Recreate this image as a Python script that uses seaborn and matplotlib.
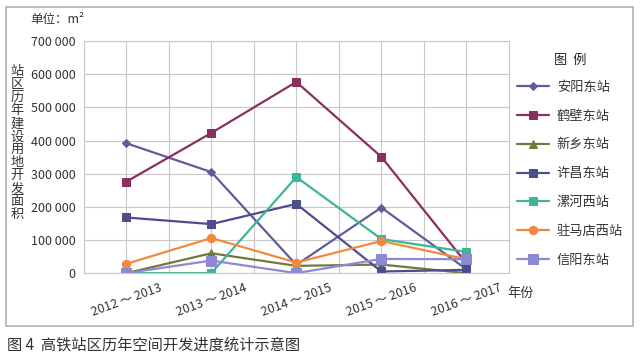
import pandas as pd
import seaborn as sns
import matplotlib.pyplot as plt
from matplotlib.patches import Rectangle
from matplotlib.ticker import FuncFormatter, MultipleLocator

sns.set_theme()
sns.set_style("white")
plt.rcParams['font.family'] = ['Noto Sans CJK SC', 'DejaVu Sans']

periods = ['2012 ～ 2013', '2013 ～ 2014', '2014 ～ 2015', '2015 ～ 2016', '2016 ～ 2017']
stations = ['安阳东站', '鹤壁东站', '新乡东站', '许昌东站', '漯河西站', '驻马店西站', '信阳东站']

anyang = [392000, 305000, 25000, 198000, 12000]
hebi = [276000, 423000, 577000, 351000, 30000]
xinxiang = [0, 60000, 22000, 26000, 0]
xuchang = [168000, 148000, 209000, 5000, 10000]
luohe = [0, 0, 290000, 103000, 64000]
zhumadian = [28000, 106000, 32000, 97000, 42000]
xinyang = [0, 38000, 0, 43000, 42000]

values = [anyang, hebi, xinxiang, xuchang, luohe, zhumadian, xinyang]
colors = ['#5e5d9c', '#8a2f5e', '#6e7b3e', '#4e4d8c', '#3db596', '#f28a3e', '#8c8ad2']
markers = ['D', 's', '^', 's', 's', 'o', 's']
msizes = [4.5, 5.5, 6, 6, 6, 6, 7.5]

df = pd.DataFrame({
    'period': [p for _ in stations for p in periods],
    'x': [i for _ in stations for i in range(len(periods))],
    'station': [s for s in stations for _ in periods],
    'value': [v for vals in values for v in vals],
})

fig = plt.figure(figsize=(6.4, 3.58), dpi=100)
ax = fig.add_axes([0.131, 0.237, 0.664, 0.648])

for st, c, m, ms in zip(stations, colors, markers, msizes):
    sub = df[df['station'] == st]
    sns.lineplot(data=sub, x='x', y='value', ax=ax, color=c, marker=m,
                 markersize=ms, markeredgecolor=c, linewidth=1.6, label=st)

ax.set_xlim(-0.5, 4.5)
ax.set_ylim(0, 700000)
ax.set_xticks(range(len(periods)))
ax.set_xticklabels(periods, rotation=20, fontsize=9, color='#333333')
ax.xaxis.set_minor_locator(MultipleLocator(0.5))
ax.yaxis.set_major_locator(MultipleLocator(100000))
ax.yaxis.set_major_formatter(FuncFormatter(lambda v, p: f'{int(v):,}'.replace(',', ' ')))
ax.tick_params(axis='y', labelsize=9, labelcolor='#333333', length=0, pad=6)
ax.tick_params(axis='x', length=0, pad=6)
ax.grid(True, which='both', color='#c8c8c8', linewidth=0.8)
ax.set_axisbelow(True)
for sp in ax.spines.values():
    sp.set_color('#c8c8c8')
    sp.set_linewidth(0.8)
ax.set_xlabel('')
ax.set_ylabel('')

leg = ax.legend(title='图  例', loc='upper left', bbox_to_anchor=(0.998, 0.985),
                frameon=False, fontsize=9.5, title_fontsize=9.5,
                handlelength=2.4, handletextpad=0.6, labelspacing=1.2,
                borderaxespad=0.3)
leg._legend_box.sep = 10
for t in leg.get_texts():
    t.set_color('#333333')

fig.text(0.047, 0.945, '单位：m²', fontsize=9, color='#333333', va='center')
fig.text(0.027, 0.6, '\n'.join('站区历年建设用地开发面积'), fontsize=9.5,
         color='#333333', va='center', ha='center', linespacing=1.0)
fig.text(0.792, 0.18, '年份', fontsize=9.5, color='#333333', va='center')

fig.patches.append(Rectangle((0.009, 0.09), 0.98, 0.89, transform=fig.transFigure,
                             fill=False, edgecolor='#b0b0b0', linewidth=1.2))
fig.text(0.011, 0.035, '图 4  高铁站区历年空间开发进度统计示意图', fontsize=11,
         color='#333333', va='center')

fig.savefig('out.png', dpi=100)
